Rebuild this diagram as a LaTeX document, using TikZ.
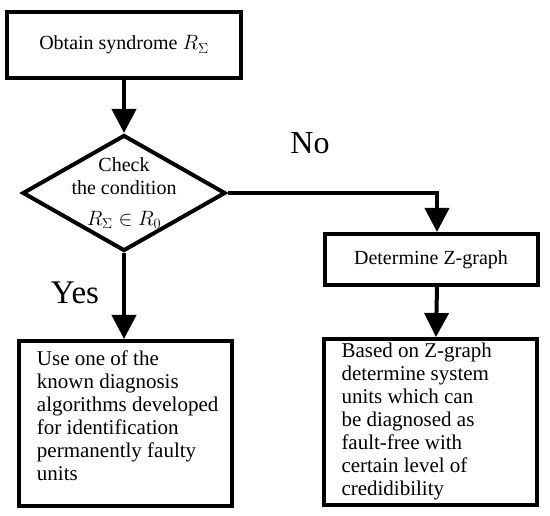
\documentclass[tikz,border=0pt]{standalone}
\usepackage{fontspec}
\setmainfont{Liberation Serif}
\usetikzlibrary{shapes.geometric,arrows.meta}
\begin{document}
\begin{tikzpicture}[x=1pt,y=-1pt,>={Triangle[width=24pt,length=24pt]},line width=4pt,
                box/.style={draw,rectangle,inner sep=0pt},
                font=\fontsize{20}{23}\selectfont]
                \useasboundingbox (0,0) rectangle (550,516);
                \node[box,minimum width=234pt,minimum height=66pt] (obtain) at (124,45) {Obtain syndrome $R_\Sigma$};
                \node[draw,diamond,minimum width=203pt,minimum height=116pt,inner sep=0pt] (check) at (124,193) {};
                \node[align=center,inner sep=0pt] (checktxt) at (124,193) {Check\\the condition\\[8pt]$R_\Sigma\in R_0$};
                \node[box,minimum width=213pt,minimum height=51pt] (zgraph) at (431,259.5) {Determine Z-graph};
                \node[box,minimum width=213pt,minimum height=166pt] (based) at (430,422) {};
                \node[box,minimum width=213pt,minimum height=165pt] (use) at (125.5,423.5) {};
                \node[anchor=north west,align=left,inner sep=0pt,font=\fontsize{21}{23}\selectfont] (basedtxt) at ([xshift=18pt,yshift=-4pt]based.north west) {Based on Z-graph\\determine system\\units which can\\be diagnosed as\\fault-free with\\certain level of\\credidibility};
                \node[anchor=north west,align=left,inner sep=0pt,font=\fontsize{21}{23}\selectfont] (usetxt) at ([xshift=18pt,yshift=-10pt]use.north west) {Use one of the\\known diagnosis\\algorithms developed\\for identification\\permanently faulty\\units};
                \draw[->] (obtain) -- (check);
                \draw[->] (check.east) -| ([xshift=6pt]zgraph.north);
                \draw[->] ([xshift=6pt]zgraph.south) -- ([xshift=6pt]based.north);
                \draw[->] (check.south) -- (check.south |- use.north);
                \node[font=\fontsize{32}{36}\selectfont] (no) at (310,143) {No};
                \node[font=\fontsize{33}{36}\selectfont] (yes) at (75,293) {Yes};
            \end{tikzpicture}
\end{document}
